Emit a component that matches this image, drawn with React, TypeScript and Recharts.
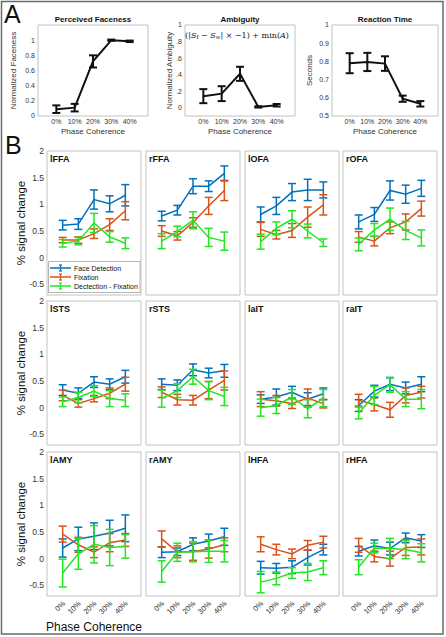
import React from 'react';
import { LineChart, Line, XAxis, YAxis, ErrorBar } from 'recharts';

const FONT = '"Liberation Sans", Arial, Helvetica, sans-serif';
const BOX = '#c2c2c2';
const TXT = '#333333';
const BLUE = '#0072BD';
const RED = '#D95319';
const GREEN = '#22E622';

const phase = [0, 10, 20, 30, 40];
const phaseLabels = ['0%', '10%', '20%', '30%', '40%'];

// Panel A
const faceness = [0.09, 0.11, 0.72, 1.0, 0.985];
const facenessErr = [0.05, 0.05, 0.08, 0.008, 0.01];
const ambiguity = [0.14, 0.17, 0.41, 0.01, 0.03];
const ambiguityErr = [0.085, 0.09, 0.085, 0.008, 0.015];
const reactionTime = [0.79, 0.797, 0.788, 0.595, 0.567];
const reactionTimeErr = [0.055, 0.05, 0.04, 0.017, 0.015];

// Panel B
const roiNames = ['lFFA', 'rFFA', 'lOFA', 'rOFA', 'lSTS', 'rSTS', 'laIT', 'raIT', 'lAMY', 'rAMY', 'lHFA', 'rHFA'];
const seriesNames = ['Face Detection', 'Fixation', 'Dectection - Fixation'];
const signalTicks = [-0.5, 0, 0.5, 1, 1.5, 2];

const detection = [
  [0.61, 0.63, 1.09, 1.01, 1.17],
  [0.78, 0.89, 1.34, 1.34, 1.58],
  [0.81, 0.97, 1.23, 1.27, 1.27],
  [0.67, 0.81, 1.26, 1.19, 1.3],
  [0.33, 0.27, 0.48, 0.44, 0.58],
  [0.44, 0.42, 0.71, 0.65, 0.69],
  [0.16, 0.2, 0.29, 0.16, 0.26],
  [0.04, 0.31, 0.44, 0.37, 0.44],
  [0.2, 0.37, 0.42, 0.48, 0.57],
  [0.12, 0.13, 0.27, 0.33, 0.41],
  [-0.17, -0.18, -0.16, 0.02, 0.17],
  [0.14, 0.24, 0.19, 0.39, 0.33],
];
const detectionErr = [
  [0.09, 0.1, 0.18, 0.15, 0.2],
  [0.09, 0.09, 0.14, 0.1, 0.14],
  [0.14, 0.16, 0.16, 0.2, 0.15],
  [0.13, 0.13, 0.18, 0.17, 0.15],
  [0.1, 0.1, 0.1, 0.1, 0.12],
  [0.1, 0.1, 0.11, 0.09, 0.12],
  [0.08, 0.15, 0.11, 0.12, 0.11],
  [0.11, 0.11, 0.12, 0.11, 0.14],
  [0.17, 0.22, 0.25, 0.24, 0.25],
  [0.1, 0.07, 0.12, 0.13, 0.16],
  [0.12, 0.09, 0.12, 0.14, 0.1],
  [0.09, 0.11, 0.12, 0.09, 0.12],
];
const fixation = [
  [0.33, 0.33, 0.45, 0.62, 0.88],
  [0.5, 0.41, 0.66, 0.97, 1.26],
  [0.53, 0.43, 0.51, 0.76, 0.99],
  [0.39, 0.31, 0.56, 0.67, 0.92],
  [0.23, 0.08, 0.17, 0.27, 0.44],
  [0.29, 0.15, 0.14, 0.33, 0.51],
  [0.16, 0.13, 0.075, 0.18, 0.075],
  [0.14, 0.06, -0.04, 0.23, 0.29],
  [0.46, 0.26, 0.12, 0.3, 0.35],
  [0.37, 0.13, 0.13, 0.18, 0.26],
  [0.27, 0.17, 0.09, 0.25, 0.31],
  [0.25, 0.04, 0.0, 0.21, 0.22],
];
const fixationErr = [
  [0.05, 0.06, 0.09, 0.11, 0.17],
  [0.1, 0.08, 0.09, 0.16, 0.19],
  [0.13, 0.08, 0.13, 0.19, 0.19],
  [0.1, 0.09, 0.11, 0.15, 0.14],
  [0.1, 0.07, 0.06, 0.1, 0.13],
  [0.1, 0.1, 0.09, 0.16, 0.18],
  [0.14, 0.1, 0.09, 0.17, 0.08],
  [0.11, 0.12, 0.14, 0.14, 0.11],
  [0.15, 0.14, 0.1, 0.17, 0.12],
  [0.15, 0.11, 0.16, 0.17, 0.13],
  [0.14, 0.1, 0.09, 0.09, 0.11],
  [0.13, 0.1, 0.14, 0.15, 0.15],
];
const difference = [
  [0.27, 0.31, 0.65, 0.39, 0.27],
  [0.31, 0.49, 0.7, 0.38, 0.31],
  [0.3, 0.55, 0.72, 0.5, 0.28],
  [0.25, 0.52, 0.72, 0.51, 0.37],
  [0.11, 0.19, 0.31, 0.17, 0.14],
  [0.17, 0.32, 0.58, 0.32, 0.21],
  [0.0, 0.04, 0.2, -0.02, 0.18],
  [-0.1, 0.23, 0.43, 0.16, 0.16],
  [-0.27, 0.09, 0.27, 0.21, 0.23],
  [-0.24, 0.12, 0.13, 0.14, 0.14],
  [-0.44, -0.37, -0.27, -0.25, -0.17],
  [-0.16, 0.2, 0.19, 0.17, 0.11],
];
const differenceErr = [
  [0.07, 0.07, 0.18, 0.1, 0.1],
  [0.14, 0.1, 0.16, 0.17, 0.17],
  [0.14, 0.12, 0.16, 0.13, 0.07],
  [0.12, 0.12, 0.21, 0.17, 0.15],
  [0.09, 0.1, 0.1, 0.15, 0.12],
  [0.16, 0.13, 0.14, 0.17, 0.17],
  [0.16, 0.15, 0.14, 0.17, 0.16],
  [0.11, 0.17, 0.14, 0.14, 0.18],
  [0.26, 0.29, 0.35, 0.34, 0.22],
  [0.2, 0.17, 0.19, 0.21, 0.2],
  [0.2, 0.12, 0.1, 0.16, 0.13],
  [0.14, 0.09, 0.19, 0.17, 0.17],
];

type Series = { values: number[]; errors: number[]; color: string; width: number };

type PanelProps = {
  left: number;
  top: number;
  width: number;
  height: number;
  yDomain: [number, number];
  yTicks: number[];
  series: Series[];
  yLabelWidth: number;
  yTickFont: number;
  yFmt: (v: number) => string;
  xLabelHeight: number;
  xKind: 'none' | 'flat' | 'rot';
  xTickFont: number;
};

const RotTick = (props: any) => {
  const { x, y, payload } = props;
  const idx = phase.indexOf(payload.value);
  const ax = x + 3;
  const ay = y + 8;
  return (
    <text
      x={ax}
      y={ay}
      textAnchor="end"
      transform={`rotate(-45 ${ax} ${ay})`}
      fontSize={7.5}
      fill={TXT}
      fontFamily={FONT}
    >
      {phaseLabels[idx]}
    </text>
  );
};

const TOP_PAD = 6;

function Panel(p: PanelProps) {
  const yw = p.yLabelWidth;
  const xh = p.xLabelHeight;
  const data = phase.map((x, i) => {
    const row: any = { x };
    p.series.forEach((s, k) => {
      row['v' + k] = s.values[i];
      row['e' + k] = s.errors[i];
    });
    return row;
  });
  const W = p.width + 2 + yw;
  const H = p.height + TOP_PAD + 1 + xh;
  const xDom: [number, number] = [-10, 50];
  return (
    <div style={{ position: 'absolute', left: p.left - 1 - yw, top: p.top - TOP_PAD }}>
      <LineChart width={W} height={H} data={data} margin={{ top: TOP_PAD, right: 1, bottom: 1, left: 1 }}>
        <XAxis xAxisId="m" dataKey="x" type="number" domain={xDom} ticks={phase} allowDataOverflow mirror tick={false} tickSize={2.5} stroke={BOX} />
        <XAxis xAxisId="t" orientation="top" dataKey="x" type="number" domain={xDom} ticks={phase} allowDataOverflow mirror tick={false} tickSize={2.5} stroke={BOX} />
        {p.xKind !== 'none' && (
          <XAxis
            xAxisId="l"
            dataKey="x"
            type="number"
            domain={xDom}
            ticks={phase}
            allowDataOverflow
            height={xh}
            axisLine={false}
            tickLine={false}
            tickSize={0}
            tickMargin={p.xKind === 'flat' ? 3 : 0}
            interval={0}
            tick={p.xKind === 'rot' ? <RotTick /> : { fontSize: p.xTickFont, fill: TXT, fontFamily: FONT }}
            tickFormatter={(v: number) => phaseLabels[phase.indexOf(v)]}
          />
        )}
        <YAxis yAxisId="m" type="number" domain={p.yDomain} ticks={p.yTicks} allowDataOverflow mirror tick={false} tickSize={2.5} stroke={BOX} />
        <YAxis yAxisId="r" orientation="right" type="number" domain={p.yDomain} ticks={p.yTicks} allowDataOverflow mirror tick={false} tickSize={2.5} stroke={BOX} />
        {yw > 0 && (
          <YAxis
            yAxisId="l"
            type="number"
            domain={p.yDomain}
            ticks={p.yTicks}
            allowDataOverflow
            width={yw}
            axisLine={false}
            tickLine={false}
            tickSize={0}
            tickMargin={3}
            interval={0}
            tick={{ fontSize: p.yTickFont, fill: TXT, fontFamily: FONT }}
            tickFormatter={p.yFmt}
          />
        )}
        {p.series.map((s, k) => (
          <Line
            key={k}
            xAxisId="m"
            yAxisId="m"
            type="linear"
            dataKey={'v' + k}
            stroke={s.color}
            strokeWidth={s.width}
            dot={false}
            activeDot={false}
            isAnimationActive={false}
          >
            <ErrorBar dataKey={'e' + k} width={4} stroke={s.color} strokeWidth={s.width} direction="y" isAnimationActive={false} />
          </Line>
        ))}
      </LineChart>
    </div>
  );
}

const aPanels = [
  {
    left: 38, width: 110, title: 'Perceived Faceness', ylabel: 'Normalized Faceness', ylabelX: 16,
    values: faceness, errs: facenessErr, domain: [0, 1.2] as [number, number],
    ticks: [0, 0.2, 0.4, 0.6, 0.8, 1], fmt: (v: number) => String(v),
  },
  {
    left: 185, width: 110, title: 'Ambiguity', ylabel: 'Normalized Ambiguity', ylabelX: 172,
    values: ambiguity, errs: ambiguityErr, domain: [-0.1, 1] as [number, number],
    ticks: [0, 0.2, 0.4, 0.6, 0.8, 1], fmt: (v: number) => String(v).replace(/^0\./, '.'),
  },
  {
    left: 332, width: 106, title: 'Reaction Time', ylabel: 'Seconds', ylabelX: 312,
    values: reactionTime, errs: reactionTimeErr, domain: [0.5, 1] as [number, number],
    ticks: [0.5, 0.6, 0.7, 0.8, 0.9, 1], fmt: (v: number) => String(v),
  },
];

const colLefts = [47, 146, 245, 343];
const rowTops = [151, 301, 452];
const PW = 94;
const PH = 144;

export default function App() {
  return (
    <div style={{ position: 'absolute', left: 0, top: 0, width: 446, height: 637, background: '#fff', fontFamily: FONT, overflow: 'hidden' }}>
      {aPanels.map((a, i) => (
        <Panel
          key={'a' + i}
          left={a.left}
          top={25}
          width={a.width}
          height={91}
          yDomain={a.domain}
          yTicks={a.ticks}
          series={[{ values: a.values, errors: a.errs, color: '#111', width: 2 }]}
          yLabelWidth={26}
          yTickFont={7}
          yFmt={a.fmt}
          xLabelHeight={12}
          xKind="flat"
          xTickFont={7}
        />
      ))}
      {roiNames.map((name, i) => {
        const r = Math.floor(i / 4);
        const c = i % 4;
        return (
          <Panel
            key={name}
            left={colLefts[c]}
            top={rowTops[r]}
            width={PW}
            height={PH}
            yDomain={[-0.7, 2]}
            yTicks={signalTicks}
            series={[
              { values: detection[i], errors: detectionErr[i], color: BLUE, width: 1.5 },
              { values: fixation[i], errors: fixationErr[i], color: RED, width: 1.5 },
              { values: difference[i], errors: differenceErr[i], color: GREEN, width: 1.5 },
            ]}
            yLabelWidth={c === 0 ? 36 : 0}
            yTickFont={8.5}
            yFmt={(v: number) => String(v)}
            xLabelHeight={r === 2 ? 30 : 0}
            xKind={r === 2 ? 'rot' : 'none'}
            xTickFont={7.5}
          />
        );
      })}
      <svg width={446} height={637} style={{ position: 'absolute', left: 0, top: 0, pointerEvents: 'none' }} fontFamily={FONT}>
        <rect x={1.5} y={1.5} width={441.5} height={632.5} fill="none" stroke="#6a6a6a" strokeWidth={1.5} />
        <text x={4} y={23} fontSize={25} fill="#111">A</text>
        <text x={5} y={154} fontSize={25} fill="#111">B</text>
        {aPanels.map((a, i) => (
          <g key={'at' + i}>
            <text x={a.left + a.width / 2} y={22} fontSize={8} fontWeight="bold" textAnchor="middle" fill="#111">{a.title}</text>
            <text x={a.ylabelX} y={70.5} fontSize={8} textAnchor="middle" fill={TXT} transform={`rotate(-90 ${a.ylabelX} 70.5)`}>{a.ylabel}</text>
            <text x={a.left + a.width / 2} y={134} fontSize={8} textAnchor="middle" fill={TXT}>Phase Coherence</text>
          </g>
        ))}
        <text x={237} y={37.5} fontSize={8} textAnchor="middle" fill="#111" fontFamily='"DejaVu Serif", "Liberation Serif", serif'>
          {'(|'}
          <tspan fontStyle="italic">S</tspan>
          <tspan fontSize={5.5} dy={1.5}>f</tspan>
          <tspan dy={-1.5}>{' − '}</tspan>
          <tspan fontStyle="italic">S</tspan>
          <tspan fontSize={5.5} dy={1.5}>w</tspan>
          <tspan dy={-1.5}>{'| × −1) + min('}</tspan>
          <tspan fontStyle="italic">A</tspan>
          {')'}
        </text>
        {roiNames.map((name, i) => {
          const r = Math.floor(i / 4);
          const c = i % 4;
          return (
            <text key={'n' + name} x={colLefts[c] + 3} y={rowTops[r] + 11} fontSize={9} fontWeight="bold" fill="#111">{name}</text>
          );
        })}
        {rowTops.map((t, r) => (
          <text key={'yl' + r} x={25} y={t + PH / 2} fontSize={11.5} textAnchor="middle" fill="#111" transform={`rotate(-90 25 ${t + PH / 2})`}>% signal change</text>
        ))}
        <text x={colLefts[0] + PW / 2} y={631} fontSize={12} textAnchor="middle" fill="#111">Phase Coherence</text>
        <g>
          <rect x={48.5} y={261.5} width={91.5} height={31} fill="#fff" stroke="#b5b5b5" strokeWidth={1} />
          {[BLUE, RED, GREEN].map((col, k) => {
            const ly = 268 + k * 9;
            return (
              <g key={'lg' + k}>
                <line x1={50} x2={71} y1={ly} y2={ly} stroke={col} strokeWidth={1.5} />
                <line x1={60.5} x2={60.5} y1={ly - 3} y2={ly + 3} stroke={col} strokeWidth={1.2} />
                <line x1={59} x2={62} y1={ly - 3} y2={ly - 3} stroke={col} strokeWidth={1.2} />
                <line x1={59} x2={62} y1={ly + 3} y2={ly + 3} stroke={col} strokeWidth={1.2} />
                <text x={74} y={ly + 2.5} fontSize={7} fill="#111">{seriesNames[k]}</text>
              </g>
            );
          })}
        </g>
      </svg>
    </div>
  );
}
